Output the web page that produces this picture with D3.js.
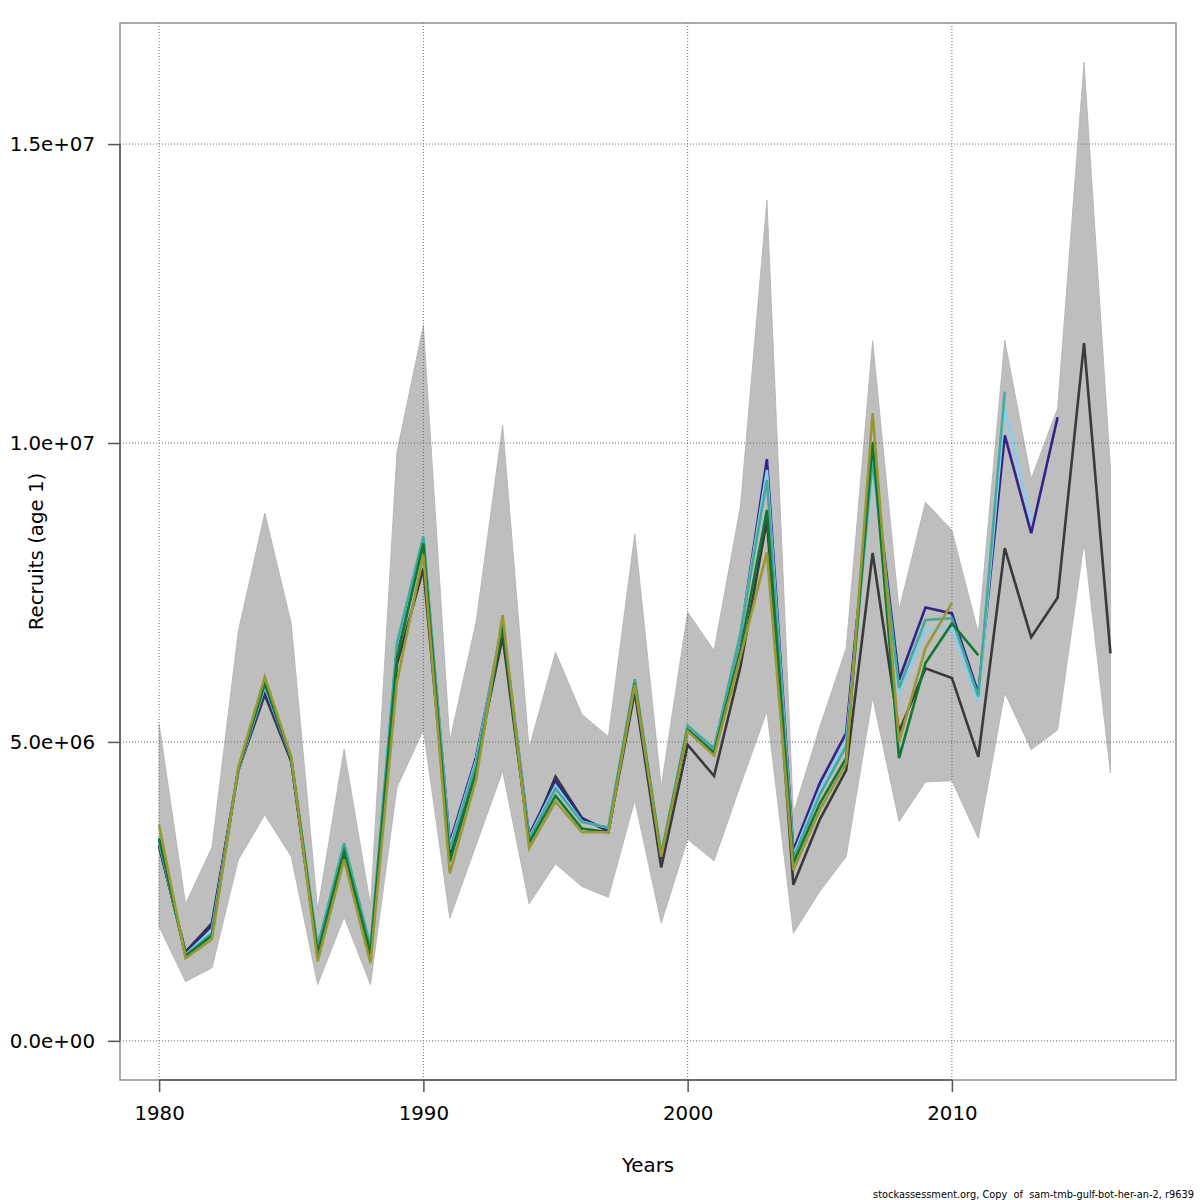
<!DOCTYPE html>
<html>
<head>
<meta charset="utf-8">
<script src="https://cdn.jsdelivr.net/npm/d3@7"></script>
<style>
  html, body { margin: 0; padding: 0; background: #fff; }
  svg { display: block; font-family: "DejaVu Sans", sans-serif; }
</style>
</head>
<body>
<svg id="chart" width="1200" height="1200"></svg>
<script>
// ---- data (values in millions of recruits, age 1) ----
const years = d3.range(1980, 2017);

const bandUpper = [5.30, 2.29, 3.24, 6.86, 8.83, 6.98, 2.19, 4.88, 2.27, 9.85,
  11.97, 5.02, 7.02, 10.30, 4.90, 6.50, 5.46, 5.09, 8.48, 4.25,
  7.17, 6.53, 8.95, 14.06, 3.81, 5.25, 6.57, 11.71, 7.21, 9.01,
  8.54, 6.82, 11.72, 9.40, 10.58, 16.37, 9.58];

const bandLower = [1.91, 0.99, 1.22, 3.03, 3.78, 3.08, 0.94, 2.07, 0.94, 4.24,
  5.20, 2.05, 3.28, 4.51, 2.29, 2.96, 2.58, 2.40, 4.02, 1.97,
  3.37, 3.01, 4.28, 5.51, 1.80, 2.50, 3.08, 5.74, 3.67, 4.33,
  4.35, 3.39, 5.82, 4.87, 5.20, 8.33, 4.48];

const baseRun = [3.25, 1.49, 1.97, 4.53, 5.79, 4.67, 1.42, 3.14, 1.42, 6.30,
  7.90, 3.10, 4.65, 6.76, 3.35, 4.42, 3.73, 3.50, 5.84, 2.90,
  4.95, 4.43, 6.26, 8.71, 2.61, 3.70, 4.53, 8.16, 5.17, 6.23,
  6.07, 4.75, 8.24, 6.75, 7.41, 11.67, 6.48];

const peel1 = [3.28, 1.46, 1.93, 4.53, 5.86, 4.70, 1.50, 3.22, 1.50, 6.58,
  8.38, 3.31, 4.75, 6.98, 3.44, 4.34, 3.72, 3.52, 6.00, 3.05,
  5.24, 4.88, 6.78, 9.73, 3.19, 4.31, 5.15, 9.77, 6.04, 7.25,
  7.15, 5.81, 10.13, 8.49, 10.43];

const peel2 = [3.33, 1.44, 1.86, 4.53, 5.92, 4.72, 1.55, 3.28, 1.55, 6.62,
  8.42, 3.25, 4.70, 7.00, 3.40, 4.27, 3.67, 3.56, 6.03, 3.10,
  5.26, 4.88, 6.80, 9.55, 3.11, 4.20, 5.02, 9.60, 5.82, 6.87,
  6.90, 5.67, 10.58, 8.68];

const peel3 = [3.36, 1.43, 1.80, 4.55, 5.95, 4.72, 1.58, 3.31, 1.58, 6.65,
  8.44, 3.20, 4.65, 7.02, 3.38, 4.22, 3.66, 3.57, 6.05, 3.13,
  5.27, 4.89, 6.82, 9.38, 3.06, 4.12, 4.93, 9.72, 5.90, 7.04,
  7.07, 5.76, 10.86];

const peel4 = [3.39, 1.42, 1.76, 4.55, 5.98, 4.72, 1.47, 3.17, 1.47, 6.40,
  8.32, 3.00, 4.50, 6.93, 3.31, 4.10, 3.55, 3.49, 5.98, 3.08,
  5.20, 4.82, 6.54, 8.88, 2.97, 3.97, 4.73, 10.02, 4.73, 6.32,
  6.98, 6.45];

const peel5 = [3.61, 1.38, 1.70, 4.58, 6.09, 4.75, 1.33, 3.03, 1.30, 6.00,
  8.13, 2.80, 4.38, 7.12, 3.22, 4.00, 3.49, 3.49, 5.96, 3.08,
  5.18, 4.77, 6.43, 8.17, 2.86, 3.86, 4.64, 10.50, 5.00, 6.57,
  7.32];

const seriesColors = ["#3a3a3a", "#332288", "#88CCEE", "#44AA99", "#117733", "#999933"];
const seriesList = [baseRun, peel1, peel2, peel3, peel4, peel5];

const xTicks = [1980, 1990, 2000, 2010];
const yTicks = [0, 5e6, 1e7, 1.5e7];
const yTickLabels = ["0.0e+00", "5.0e+06", "1.0e+07", "1.5e+07"];

// ---- layout ----
const L = 120, R = 1176, T = 23, B = 1080;
const svg = d3.select("#chart");

const x = d3.scaleLinear().domain([1978.52, 2018.48]).range([L, R]);
const y = d3.scaleLinear().domain([-0.655e6, 17.025e6]).range([B, T]);

// band
const area = d3.area()
  .x((d, i) => x(years[i]))
  .y0((d, i) => y(bandLower[i] * 1e6))
  .y1(d => y(d * 1e6));
svg.append("path")
  .datum(bandUpper)
  .attr("d", area)
  .attr("fill", "#bebebe")
  .attr("stroke", "#b0b0b0")
  .attr("stroke-width", 0.8);

// grid
const grid = svg.append("g").attr("stroke", "#6a6a6a").attr("stroke-width", 1)
  .attr("stroke-dasharray", "1,2");
grid.selectAll("line.v").data(xTicks).enter().append("line")
  .attr("x1", d => x(d)).attr("x2", d => x(d)).attr("y1", T).attr("y2", B);
grid.selectAll("line.h").data(yTicks).enter().append("line")
  .attr("y1", d => y(d)).attr("y2", d => y(d)).attr("x1", L).attr("x2", R);

// series lines
const line = d3.line()
  .x((d, i) => x(years[i]))
  .y(d => y(d * 1e6));
seriesList.forEach((s, k) => {
  svg.append("path")
    .datum(s)
    .attr("d", line)
    .attr("fill", "none")
    .attr("stroke", seriesColors[k])
    .attr("stroke-width", 2.6)
    .attr("stroke-linejoin", "miter")
    .attr("stroke-linecap", "butt");
});

// box
svg.append("rect")
  .attr("x", L).attr("y", T).attr("width", R - L).attr("height", B - T)
  .attr("fill", "none").attr("stroke", "#8f8f8f").attr("stroke-width", 1.5);

// axes
const xAxis = d3.axisBottom(x).tickValues(xTicks).tickSize(12).tickSizeOuter(0).tickPadding(14)
  .tickFormat(d3.format("d"));
const gx = svg.append("g").attr("transform", `translate(0,${B})`).call(xAxis);
gx.select(".domain").attr("d", `M${x(xTicks[0])},0H${x(xTicks[xTicks.length - 1])}`)
  .attr("stroke", "#555").attr("stroke-width", 1.5);
gx.selectAll(".tick line").attr("stroke", "#555").attr("stroke-width", 1.5);
gx.selectAll(".tick text").attr("font-family", "DejaVu Sans").attr("font-size", 19.8)
  .attr("fill", "#000");

const yAxis = d3.axisLeft(y).tickValues(yTicks).tickSize(12).tickSizeOuter(0).tickPadding(13)
  .tickFormat((d, i) => yTickLabels[i]);
const gy = svg.append("g").attr("transform", `translate(${L},0)`).call(yAxis);
gy.select(".domain").attr("d", `M0,${y(yTicks[0])}V${y(yTicks[yTicks.length - 1])}`)
  .attr("stroke", "#555").attr("stroke-width", 1.5);
gy.selectAll(".tick line").attr("stroke", "#555").attr("stroke-width", 1.5);
gy.selectAll(".tick text").attr("font-family", "DejaVu Sans").attr("font-size", 19.8)
  .attr("fill", "#000");

// axis titles
svg.append("text")
  .attr("x", (L + R) / 2).attr("y", 1172)
  .attr("text-anchor", "middle").attr("font-size", 19.8).attr("fill", "#000")
  .text("Years");
svg.append("text")
  .attr("transform", `translate(43,${(T + B) / 2}) rotate(-90)`)
  .attr("text-anchor", "middle").attr("font-size", 19.8).attr("fill", "#000")
  .text("Recruits (age 1)");

// footer
svg.append("text")
  .attr("x", 1194).attr("y", 1198)
  .attr("text-anchor", "end").attr("font-size", 9.8).attr("fill", "#000")
  .style("white-space", "pre")
  .attr("xml:space", "preserve")
  .text("stockassessment.org, Copy  of  sam-tmb-gulf-bot-her-an-2, r9639");
</script>
</body>
</html>
